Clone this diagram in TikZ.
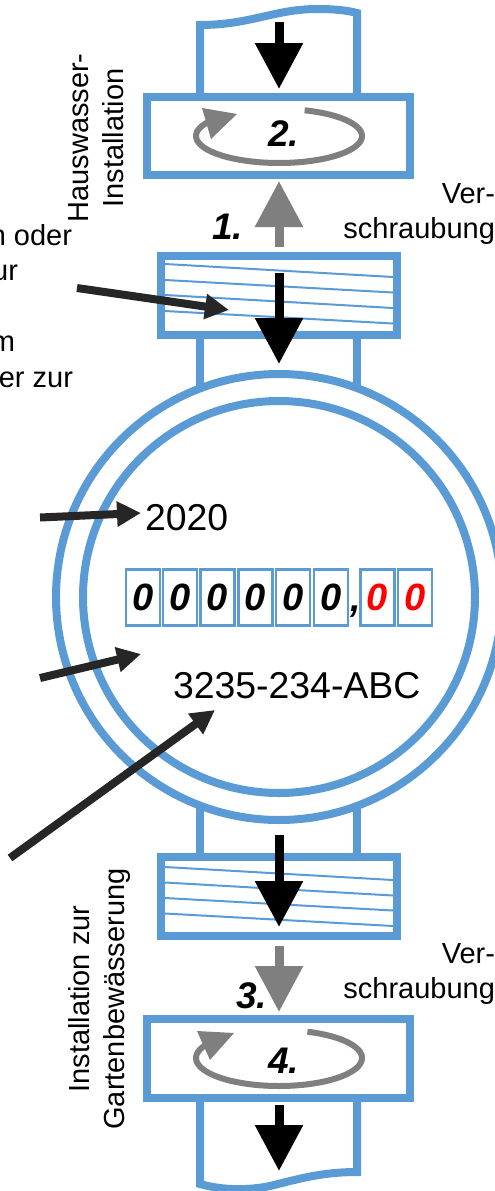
\documentclass[tikz,border=0pt]{standalone}
\usepackage{fontspec}
\setmainfont{Liberation Sans}
\usetikzlibrary{arrows.meta}
\definecolor{pipeblue}{HTML}{5B9BD5}
\definecolor{markgray}{HTML}{7F7F7F}
\definecolor{leaddark}{HTML}{262626}
\tikzset{
  pipeline/.style={draw=pipeblue,line width=8pt,line join=miter},
  ringline/.style={draw=pipeblue,line width=8pt,fill=white},
  threadline/.style={draw=pipeblue,line width=2pt},
  flowblack/.style={draw=black,line width=9pt,-{Triangle[length=46pt,width=46pt]}},
  flowgray/.style={draw=markgray,line width=9pt,-{Triangle[length=46pt,width=46pt]}},
  turnline/.style={draw=markgray,line width=6pt},
  turnhead/.style={fill=markgray,draw=none},
  leader/.style={draw=leaddark,line width=8pt,-{Triangle[length=24pt,width=24pt]}},
  labelbig/.style={inner sep=0pt,outer sep=0pt,font=\fontsize{37.4}{37}\selectfont,anchor=base west},
  labelsmall/.style={inner sep=0pt,outer sep=0pt,font=\fontsize{29}{35}\selectfont},
  stepnum/.style={inner sep=0pt,outer sep=0pt,font=\fontsize{37}{37}\selectfont\bfseries\itshape},
  digitbox/.style={draw=pipeblue,line width=2.5pt,fill=white,inner sep=0pt,outer sep=0pt,minimum width=34pt,minimum height=56pt,font=\fontsize{38}{38}\selectfont\bfseries\itshape},
}
\begin{document}
\begin{tikzpicture}[x=1pt,y=-1pt]
\useasboundingbox (0,0) rectangle (495,1191);
% pipes
\draw[pipeline] (200,97) -- (200,25) .. controls (250,25) and (275,9) .. (317,9) .. controls (332,9) and (346,10) .. (357,13) -- (357,97);
\draw[pipeline] (200,335) -- (200,400);
\draw[pipeline] (357,335) -- (357,400);
\draw[pipeline] (200,790) -- (200,857);
\draw[pipeline] (357,790) -- (357,857);
\draw[pipeline] (200,1098) -- (200,1184) .. controls (225,1191) and (250,1190) .. (270,1186) .. controls (295,1180) and (320,1172) .. (357,1172) -- (357,1098);
% rings
\node[circle,ringline,minimum size=446pt,inner sep=0pt,outer sep=0pt] (outerring) at (279,597) {};
\node[circle,ringline,minimum size=392pt,inner sep=0pt,outer sep=0pt] (innerring) at (279,597) {};
% nuts
\node[pipeline,fill=white,minimum width=263pt,minimum height=78pt,inner sep=0pt,outer sep=0pt] (nuttop) at (278.5,136) {};
\node[pipeline,fill=white,minimum width=263pt,minimum height=79pt,inner sep=0pt,outer sep=0pt] (nutbottom) at (278.5,1058.5) {};
\node[pipeline,fill=white,minimum width=236pt,minimum height=79pt,inner sep=0pt,outer sep=0pt] (threadtop) at (279,295.5) {};
\node[pipeline,fill=white,minimum width=236pt,minimum height=79pt,inner sep=0pt,outer sep=0pt] (threadbottom) at (279,896.5) {};
% thread lines
\draw[threadline] (165,264) -- (393,277);
\draw[threadline] (165,280) -- (393,292.5);
\draw[threadline] (165,295) -- (393,308);
\draw[threadline] (165,311) -- (393,323.5);
\draw[threadline] (165,867) -- (393,880);
\draw[threadline] (165,882.5) -- (393,895.5);
\draw[threadline] (165,898) -- (393,910.5);
\draw[threadline] (165,913.5) -- (393,926);
% flow arrows
\coordinate (f1a) at (279,22); \coordinate (f1b) at (279,89);
\coordinate (f2a) at (279,247); \coordinate (f2b) at (279,181);
\coordinate (f3a) at (279,273); \coordinate (f3b) at (279,364);
\coordinate (f4a) at (279,835); \coordinate (f4b) at (279,927);
\coordinate (f5a) at (279,946); \coordinate (f5b) at (279,1012);
\coordinate (f6a) at (279,1105); \coordinate (f6b) at (279,1171);
\draw[flowblack] (f1a) -- (f1b);
\draw[flowgray] (f2a) -- (f2b);
\draw[flowblack] (f3a) -- (f3b);
\draw[flowblack] (f4a) -- (f4b);
\draw[flowgray] (f5a) -- (f5b);
\draw[flowblack] (f6a) -- (f6b);
% turn marks
\draw[turnline] plot[smooth,samples=60,domain=-72:212] ({279+83*cos(\x)},{136+27*sin(\x)});
\fill[turnhead] (202,108) -- (237,114) -- (211,139) -- cycle;
\draw[turnline] plot[smooth,samples=60,domain=-70:212] ({279+83*cos(\x)},{1058+28*sin(\x)});
\fill[turnhead] (197,1031) -- (234,1033) -- (210,1060) -- cycle;
% leaders
\coordinate (l1a) at (77,288); \coordinate (l1b) at (229,310);
\coordinate (l2a) at (40,517.5); \coordinate (l2b) at (141,513);
\coordinate (l3a) at (40,678); \coordinate (l3b) at (141,654);
\coordinate (l4a) at (10,858); \coordinate (l4b) at (215,710);
\draw[leader] (l1a) -- (l1b);
\draw[leader] (l2a) -- (l2b);
\draw[leader] (l3a) -- (l3b);
\draw[leader] (l4a) -- (l4b);
% counter
\node[digitbox] (d1) at (143,597.5) {0};
\node[digitbox] (d2) at (180,597.5) {0};
\node[digitbox] (d3) at (217.5,597.5) {0};
\node[digitbox] (d4) at (255.5,597.5) {0};
\node[digitbox] (d5) at (293,597.5) {0};
\node[digitbox] (d6) at (331,597.5) {0};
\node[inner sep=0pt,anchor=base,font=\fontsize{38}{38}\selectfont\bfseries\itshape] (comma) at (355.5,611) {,};
\node[digitbox,text=red] (d7) at (377.5,597.5) {0};
\node[digitbox,text=red] (d8) at (415,597.5) {0};
% texts
\node[labelbig] (year) at (145,530) {2020};
\node[labelbig] (serial) at (173,698) {3235-234-ABC};
\node[stepnum,anchor=base west] (s1) at (212,239) {1.};
\node[stepnum,anchor=base west] (s2) at (268,146) {2.};
\node[stepnum,anchor=base west] (s3) at (236,1008) {3.};
\node[stepnum,anchor=base west] (s4) at (268,1073) {4.};
\node[labelsmall,rotate=90,align=center] (house) at (96.5,138) {Hauswasser-\\Installation};
\node[labelsmall,rotate=90,align=center] (garden) at (99.5,999) {Installation zur\\Gartenbewässerung};
\node[labelsmall,align=right,anchor=north east] (ver1) at (495,183.5) {Ver-\\schraubung};
\node[labelsmall,align=right,anchor=north east] (ver2) at (495,944) {Ver-\\schraubung};
\node[labelsmall,anchor=base east] (t1) at (72,245) {n oder};
\node[labelsmall,anchor=base east] (t2) at (18,280) {ur};
\node[labelsmall,anchor=base east] (t3) at (15,351) {m};
\node[labelsmall,anchor=base east] (t4) at (73,387) {er zur};
\end{tikzpicture}
\end{document}
